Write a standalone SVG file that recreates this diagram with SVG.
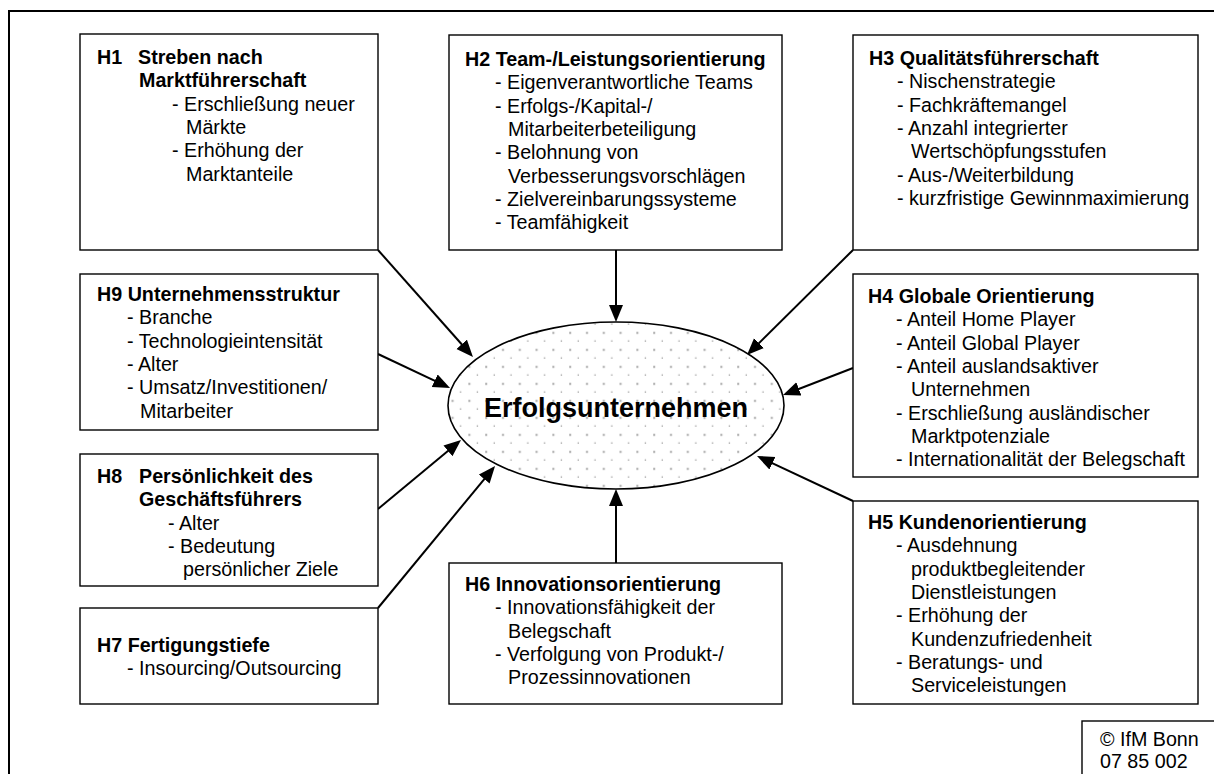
<svg xmlns="http://www.w3.org/2000/svg" width="1214" height="774" viewBox="0 0 1214 774">
  <style>
    .box { fill: #fff; stroke: #000; stroke-width: 1.4; }
    .frame { fill: none; stroke: #000; stroke-width: 2; }
    .t { font-family: "Liberation Sans", Arial, sans-serif; font-size: 19.7px; fill: #000; }
    .b { font-weight: bold; }
    .conn { stroke: #000; stroke-width: 2; fill: none; marker-end: url(#arrow); }
    .core { font-family: "Liberation Sans", Arial, sans-serif; font-size: 27px; font-weight: bold; fill: #000; }
  </style>
  <defs>
    <marker id="arrow" markerUnits="userSpaceOnUse" markerWidth="18" markerHeight="15" refX="5" refY="7" orient="auto">
      <path d="M0,0 L17,7 L0,14 Z" fill="#000"/>
    </marker>
    <!-- staggered grey dot raster for the central ellipse -->
    <pattern id="dots" patternUnits="userSpaceOnUse" x="569" y="331.7" width="16.8" height="17">
      <rect width="16.8" height="17" fill="#fff"/>
      <rect x="0.2" y="0.2" width="2" height="2" fill="#a6a6a6"/>
      <rect x="8.6" y="8.7" width="1.3" height="1.3" fill="#9a9a9a"/>
    </pattern>
  </defs>

  <!-- page frame -->
  <rect class="frame" x="9" y="11" width="1215" height="775"/>

  <!-- connectors: every factor points at the central ellipse -->
  <g id="connectors">
    <line class="conn" x1="378" y1="250" x2="465" y2="348"/>
    <line class="conn" x1="616" y1="250" x2="616" y2="310"/>
    <line class="conn" x1="853" y1="250" x2="755.5" y2="346.6"/>
    <line class="conn" x1="378" y1="354" x2="439.2" y2="382.9"/>
    <line class="conn" x1="853" y1="368" x2="794.2" y2="390.7"/>
    <line class="conn" x1="378" y1="509" x2="451.8" y2="447.7"/>
    <line class="conn" x1="853" y1="501" x2="767.9" y2="461.1"/>
    <line class="conn" x1="378" y1="608" x2="487.4" y2="475.3"/>
    <line class="conn" x1="616" y1="563" x2="616" y2="501"/>
  </g>

  <!-- centre -->
  <g id="erfolg">
    <ellipse cx="616" cy="405.5" rx="168" ry="83.5" fill="url(#dots)" stroke="#000" stroke-width="1.6"/>
    <text class="core" x="616" y="417" text-anchor="middle">Erfolgsunternehmen</text>
  </g>

  <g id="h1">
    <rect class="box" x="80" y="34" width="298" height="216"/>
    <text class="t b" x="97" y="64">H1</text>
    <text class="t b" x="138" y="64">Streben nach</text>
    <text class="t b" x="139" y="87.3">Marktführerschaft</text>
    <text class="t" x="172" y="110.6">- Erschließung neuer</text>
    <text class="t" x="186" y="133.9">Märkte</text>
    <text class="t" x="172" y="157.2">- Erhöhung der</text>
    <text class="t" x="186" y="180.5">Marktanteile</text>
  </g>

  <g id="h2">
    <rect class="box" x="449" y="35" width="333" height="215"/>
    <text class="t b" x="465" y="66">H2 Team-/Leistungsorientierung</text>
    <text class="t" x="495" y="89.3">- Eigenverantwortliche Teams</text>
    <text class="t" x="495" y="112.6">- Erfolgs-/Kapital-/</text>
    <text class="t" x="508" y="135.9">Mitarbeiterbeteiligung</text>
    <text class="t" x="495" y="159.2">- Belohnung von</text>
    <text class="t" x="508" y="182.5">Verbesserungsvorschlägen</text>
    <text class="t" x="495" y="205.8">- Zielvereinbarungssysteme</text>
    <text class="t" x="495" y="229.1">- Teamfähigkeit</text>
  </g>

  <g id="h3">
    <rect class="box" x="853" y="35" width="345" height="215"/>
    <text class="t b" x="869" y="65">H3 Qualitätsführerschaft</text>
    <text class="t" x="897" y="88.3">- Nischenstrategie</text>
    <text class="t" x="897" y="111.6">- Fachkräftemangel</text>
    <text class="t" x="897" y="134.9">- Anzahl integrierter</text>
    <text class="t" x="911" y="158.2">Wertschöpfungsstufen</text>
    <text class="t" x="897" y="181.5">- Aus-/Weiterbildung</text>
    <text class="t" x="897" y="204.8">- kurzfristige Gewinnmaximierung</text>
  </g>

  <g id="h9">
    <rect class="box" x="80" y="274" width="298" height="156"/>
    <text class="t b" x="97" y="301">H9 Unternehmensstruktur</text>
    <text class="t" x="127" y="324.3">- Branche</text>
    <text class="t" x="127" y="347.6">- Technologieintensität</text>
    <text class="t" x="127" y="370.9">- Alter</text>
    <text class="t" x="127" y="394.2">- Umsatz/Investitionen/</text>
    <text class="t" x="140" y="417.5">Mitarbeiter</text>
  </g>

  <g id="h4">
    <rect class="box" x="853" y="274" width="345" height="203"/>
    <text class="t b" x="868" y="303">H4 Globale Orientierung</text>
    <text class="t" x="896" y="326.3">- Anteil Home Player</text>
    <text class="t" x="896" y="349.6">- Anteil Global Player</text>
    <text class="t" x="896" y="372.9">- Anteil auslandsaktiver</text>
    <text class="t" x="911" y="396.2">Unternehmen</text>
    <text class="t" x="896" y="419.5">- Erschließung ausländischer</text>
    <text class="t" x="911" y="442.8">Marktpotenziale</text>
    <text class="t" x="896" y="466.1">- Internationalität der Belegschaft</text>
  </g>

  <g id="h8">
    <rect class="box" x="80" y="454" width="298" height="132"/>
    <text class="t b" x="97" y="483">H8</text>
    <text class="t b" x="139" y="483">Persönlichkeit des</text>
    <text class="t b" x="139" y="506.3">Geschäftsführers</text>
    <text class="t" x="168" y="529.6">- Alter</text>
    <text class="t" x="168" y="552.9">- Bedeutung</text>
    <text class="t" x="183" y="576.2">persönlicher Ziele</text>
  </g>

  <g id="h7">
    <rect class="box" x="80" y="608" width="298" height="96"/>
    <text class="t b" x="97" y="652">H7 Fertigungstiefe</text>
    <text class="t" x="127" y="675.3">- Insourcing/Outsourcing</text>
  </g>

  <g id="h6">
    <rect class="box" x="449" y="563" width="333" height="141"/>
    <text class="t b" x="465" y="591">H6 Innovationsorientierung</text>
    <text class="t" x="495" y="614.3">- Innovationsfähigkeit der</text>
    <text class="t" x="508" y="637.6">Belegschaft</text>
    <text class="t" x="495" y="660.9">- Verfolgung von Produkt-/</text>
    <text class="t" x="508" y="684.2">Prozessinnovationen</text>
  </g>

  <g id="h5">
    <rect class="box" x="853" y="501" width="345" height="203"/>
    <text class="t b" x="868" y="529">H5 Kundenorientierung</text>
    <text class="t" x="896" y="552.3">- Ausdehnung</text>
    <text class="t" x="911" y="575.6">produktbegleitender</text>
    <text class="t" x="911" y="598.9">Dienstleistungen</text>
    <text class="t" x="896" y="622.2">- Erhöhung der</text>
    <text class="t" x="911" y="645.5">Kundenzufriedenheit</text>
    <text class="t" x="896" y="668.8">- Beratungs- und</text>
    <text class="t" x="911" y="692.1">Serviceleistungen</text>
  </g>

  <g id="copyright">
    <rect class="box" x="1082" y="721" width="140" height="60"/>
    <text class="t" x="1100" y="746">© IfM Bonn</text>
    <text class="t" x="1100" y="768">07 85 002</text>
  </g>
</svg>
